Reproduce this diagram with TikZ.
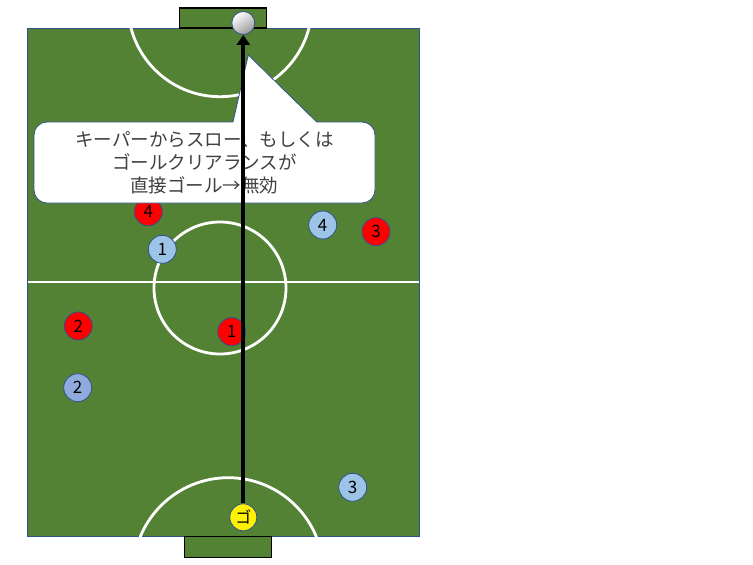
\documentclass[tikz,border=0pt]{standalone}
\usepackage{fontspec}
\setmainfont{Carlito}
\newfontfamily\cjk{Noto Sans CJK JP}
\usetikzlibrary{arrows.meta}
\definecolor{pitchgreen}{HTML}{548235}
\definecolor{edgeblue}{HTML}{2F528F}
\definecolor{lightblue}{HTML}{9DC3E6}
\definecolor{midblue}{HTML}{8FAADC}
\definecolor{textgray}{HTML}{404040}
\tikzset{
  player/.style={circle, draw=edgeblue, line width=0.8pt, minimum size=28pt, inner sep=0pt, font=\cjk\fontsize{17}{17}\selectfont},
  redp/.style={player, fill=red},
  bluep/.style={player, fill=lightblue},
  bluep2/.style={player, fill=midblue},
  goalbox/.style={draw=black, line width=1.2pt, fill=pitchgreen},
  pitchline/.style={draw=white, line width=2.8pt},
  shot/.style={line width=4pt, -{Triangle[width=13pt,length=10pt]}},
}
\begin{document}
\begin{tikzpicture}[x=1pt,y=-1pt]
\useasboundingbox (0,0) rectangle (753,565);
% pitch
\fill[pitchgreen, draw=edgeblue, line width=0.8pt] (27,28) rectangle (419,536);
\begin{scope}
  \clip (27,28) rectangle (419,536);
  \draw[pitchline] (220,4.7) circle[radius=92];
  \draw[pitchline] (228.3,572.8) circle[radius=95.1];
\end{scope}
\draw[pitchline] (27.5,282) -- (418.5,282);
\draw[pitchline] (220,288) circle[radius=66];
% goals
\draw[goalbox] (179.5,8) rectangle (266.5,28);
\draw[goalbox] (184.3,536.5) rectangle (271.7,557.3);
\node[circle, draw=edgeblue, line width=0.8pt, minimum size=23pt, inner sep=0pt,
      shading=axis, top color=white, bottom color=black!40, shading angle=35] (ball) at (243.3,23) {};
% players
\node[redp] (r4) at (148.3,211.7) {4};
\node[bluep] (b1) at (162.3,249.3) {1};
\node[bluep] (b4) at (322.7,225) {4};
\node[redp] (r3) at (376,231.7) {3};
\node[redp] (r2) at (78.3,326) {2};
\node[redp] (r1) at (231.7,331.7) {1};
\node[bluep2] (b2) at (77.7,387.7) {2};
\node[bluep] (b3) at (352.7,487.3) {3};
\node[player, fill=yellow, minimum size=27pt, font=\cjk\fontsize{16}{16}\selectfont] (gk) at (243.3,517.3) {ゴ};
% callout
\draw[fill=white, draw=edgeblue, line width=0.8pt]
  (233,122) -- (248.3,55) -- (316.7,122) -- (362,122)
  arc[start angle=-90, end angle=0, radius=13] -- (375,190)
  arc[start angle=0, end angle=90, radius=13] -- (47,203)
  arc[start angle=90, end angle=180, radius=13] -- (34,135)
  arc[start angle=180, end angle=270, radius=13] -- cycle;
\node[align=center, text=textgray, font=\cjk\fontsize{18.5}{23}\selectfont, inner sep=0pt] (note) at (204.5,162.5)
  {キーパーからスロー、もしくは\\ゴールクリアランスが\\直接ゴール→無効};
% shot
\draw[shot] (gk) -- (ball);
\end{tikzpicture}
\end{document}
